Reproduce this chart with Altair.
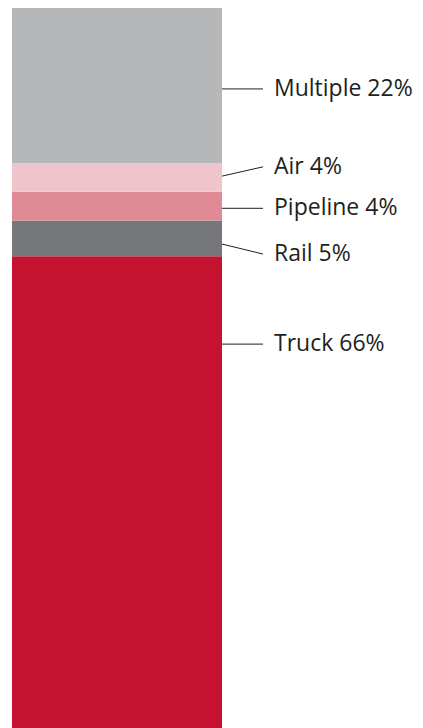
import altair as alt
import pandas as pd

# data
modes = ["Truck", "Rail", "Pipeline", "Air", "Multiple"]
shares = [66, 5, 4, 4, 22]
colors = ["#c41230", "#76777a", "#e08a96", "#f0c4cb", "#b6b7b9"]

# label layout (value-axis units): leader start, leader end / text position
lead_start = [53.7, 67.7, 72.7, 77.2, 89.4]
lead_end = [53.7, 66.3, 72.7, 78.5, 89.4]

order = list(range(len(modes)))
df = pd.DataFrame({
    "mode": modes,
    "share": shares,
    "order": order,
    "grp": ["all"] * len(modes),
    "label": [f"{m} {s}%" for m, s in zip(modes, shares)],
    "y0": lead_start,
    "y1": lead_end,
})

total = sum(shares)
yscale = alt.Scale(domain=[0, total], nice=False, zero=True)

bars = alt.Chart(df).mark_bar(strokeWidth=0).encode(
    x=alt.X("grp:N", axis=None,
            scale=alt.Scale(range=[4, 214], paddingInner=0, paddingOuter=0)),
    y=alt.Y("sum(share):Q", stack="zero", axis=None, scale=yscale),
    order=alt.Order("order:Q", sort="ascending"),
    color=alt.Color("mode:N", legend=None,
                    scale=alt.Scale(domain=modes, range=colors)),
)

leaders = alt.Chart(df).mark_rule(color="#231f20", strokeWidth=1).encode(
    x=alt.value(214),
    x2=alt.value(255),
    y=alt.Y("y0:Q", axis=None, scale=yscale),
    y2="y1:Q",
)

labels = alt.Chart(df).mark_text(
    align="left", baseline="middle", font="Open Sans", fontSize=23,
    color="#231f20",
).encode(
    x=alt.value(266),
    y=alt.Y("y1:Q", axis=None, scale=yscale),
    text="label:N",
)

chart = alt.layer(bars, leaders, labels).properties(
    width=407, height=722,
    padding={"left": 0, "top": -2, "right": 0, "bottom": 0},
    autosize=alt.AutoSizeParams(type="none"),
).configure_view(stroke=None)

chart.save("out.html", embed_options={"renderer": "svg", "actions": False})
